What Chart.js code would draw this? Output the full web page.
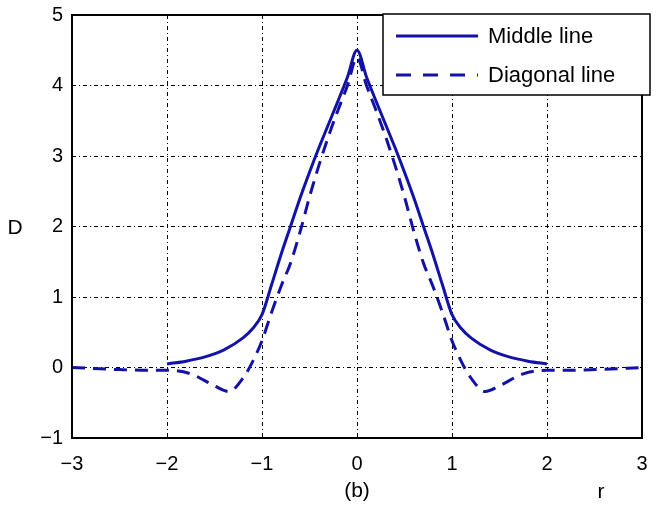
<!DOCTYPE html>
<html>
<head>
<meta charset="utf-8">
<script src="https://cdn.jsdelivr.net/npm/chart.js@4"></script>
<style>
  html, body { margin: 0; padding: 0; background: #fff; }
  #box { width: 660px; height: 511px; }
</style>
</head>
<body>
<div id="box"><canvas id="plot" width="660" height="511"></canvas></div>
<script>
// данные
var middleX = [-2, -1.8, -1.6, -1.4, -1.2, -1.1, -1, -0.9, -0.8, -0.7, -0.6, -0.5, -0.4, -0.3, -0.2, -0.1, 0, 0.1, 0.2, 0.3, 0.4, 0.5, 0.6, 0.7, 0.8, 0.9, 1, 1.1, 1.2, 1.4, 1.6, 1.8, 2];
var middleY = [0.05, 0.09, 0.15, 0.25, 0.42, 0.55, 0.75, 1.17, 1.6, 2.0, 2.4, 2.77, 3.12, 3.45, 3.78, 4.12, 4.5, 4.12, 3.78, 3.45, 3.12, 2.77, 2.4, 2.0, 1.6, 1.17, 0.75, 0.55, 0.42, 0.25, 0.15, 0.09, 0.05];
var diagX = [-3, -2.5, -2.2, -2, -1.75, -1.5, -1.35, -1.2, -1.1, -1, -0.9, -0.8, -0.7, -0.6, -0.5, -0.4, -0.3, -0.2, -0.1, 0, 0.1, 0.2, 0.3, 0.4, 0.5, 0.6, 0.7, 0.8, 0.9, 1, 1.1, 1.2, 1.35, 1.5, 1.75, 2, 2.2, 2.5, 3];
var diagY = [0, -0.03, -0.04, -0.04, -0.09, -0.26, -0.34, -0.15, 0.08, 0.38, 0.78, 1.15, 1.48, 1.92, 2.42, 2.87, 3.28, 3.65, 4.0, 4.4, 4.0, 3.65, 3.28, 2.87, 2.42, 1.92, 1.48, 1.15, 0.78, 0.38, 0.08, -0.15, -0.34, -0.26, -0.09, -0.04, -0.04, -0.03, 0];
var xTicks = [-3, -2, -1, 0, 1, 2, 3];
var yTicks = [-1, 0, 1, 2, 3, 4, 5];
var seriesNames = ['Middle line', 'Diagonal line'];

function toPoints(xs, ys){ // склеиваем x и y в точки
    return xs.map(function(x, i){ return {x: x, y: ys[i]}; });
}

var lineColor = '#1212a6';
var fontName = '"Liberation Sans", Arial, sans-serif';

var framePlugin = { // рамка вокруг области, подписи D, r, (b) и легенда
    id: 'frame',
    afterDraw: function(chart){
        var ctx = chart.ctx, a = chart.chartArea;
        ctx.save();
        ctx.strokeStyle = '#000';
        ctx.lineWidth = 2;
        ctx.setLineDash([]);
        ctx.strokeRect(a.left, a.top, a.right - a.left, a.bottom - a.top);

        ctx.fillStyle = '#000';
        ctx.font = '21px ' + fontName;
        ctx.textAlign = 'center';
        ctx.textBaseline = 'middle';
        ctx.fillText('D', 15, 228);
        ctx.fillText('r', 601, 492);
        ctx.fillText('(b)', chart.scales.x.getPixelForValue(0), 491);

        // легенда
        var lx = 383, ly = 14, lw = 267, lh = 81;
        ctx.fillStyle = '#fff';
        ctx.fillRect(lx, ly, lw, lh);
        ctx.lineWidth = 1.5;
        ctx.strokeStyle = '#000';
        ctx.strokeRect(lx, ly, lw, lh);
        ctx.font = '22px ' + fontName;
        chart.data.datasets.forEach(function(ds, i){
            var yy = 36 + i * 39;
            ctx.strokeStyle = ds.borderColor;
            ctx.lineWidth = ds.borderWidth;
            ctx.setLineDash(ds.borderDash ? [15, 12] : []);
            ctx.beginPath();
            ctx.moveTo(396, yy);
            ctx.lineTo(478, yy);
            ctx.stroke();
            ctx.fillStyle = '#000';
            ctx.textAlign = 'left';
            ctx.fillText(ds.label, 488, yy + 1);
        });
        ctx.restore();
    }
};

var gridStyle = {
    color: '#000',
    lineWidth: 1,
    tickLength: 0,
    drawTicks: false
};

new Chart(document.getElementById('plot'), {
    type: 'line',
    data: {
        datasets: [{
            label: seriesNames[0],
            data: toPoints(middleX, middleY),
            borderColor: lineColor,
            borderWidth: 3,
            pointRadius: 0,
            fill: false,
            cubicInterpolationMode: 'monotone'
        }, {
            label: seriesNames[1],
            data: toPoints(diagX, diagY),
            borderColor: lineColor,
            borderWidth: 3,
            borderDash: [13, 8],
            pointRadius: 0,
            fill: false,
            cubicInterpolationMode: 'monotone'
        }]
    },
    options: {
        responsive: false,
        animation: false,
        layout: { padding: { top: 15, right: 18, left: 0, bottom: 0 } },
        plugins: { legend: { display: false }, tooltip: { enabled: false } },
        scales: {
            x: {
                type: 'linear',
                min: -3, max: 3,
                afterBuildTicks: function(s){ s.ticks = xTicks.map(function(v){ return {value: v}; }); },
                afterFit: function(s){ s.height = 73; s.paddingLeft = 0; s.paddingRight = 0; },
                grid: Object.assign({}, gridStyle),
                border: { display: false, dash: [4, 3, 1, 3] },
                ticks: {
                    color: '#000', padding: 14,
                    font: { size: 20, family: fontName },
                    callback: function(v){ return String(v).replace('-', '\u2212'); }
                }
            },
            y: {
                min: -1, max: 5,
                afterBuildTicks: function(s){ s.ticks = yTicks.map(function(v){ return {value: v}; }); },
                afterFit: function(s){ s.width = 72; s.paddingTop = 0; s.paddingBottom = 0; },
                grid: Object.assign({}, gridStyle),
                border: { display: false, dash: [4, 3, 1, 3] },
                ticks: {
                    color: '#000', padding: 9,
                    font: { size: 20, family: fontName },
                    callback: function(v){ return String(v).replace('-', '\u2212'); }
                }
            }
        }
    },
    plugins: [framePlugin]
});
</script>
</body>
</html>
